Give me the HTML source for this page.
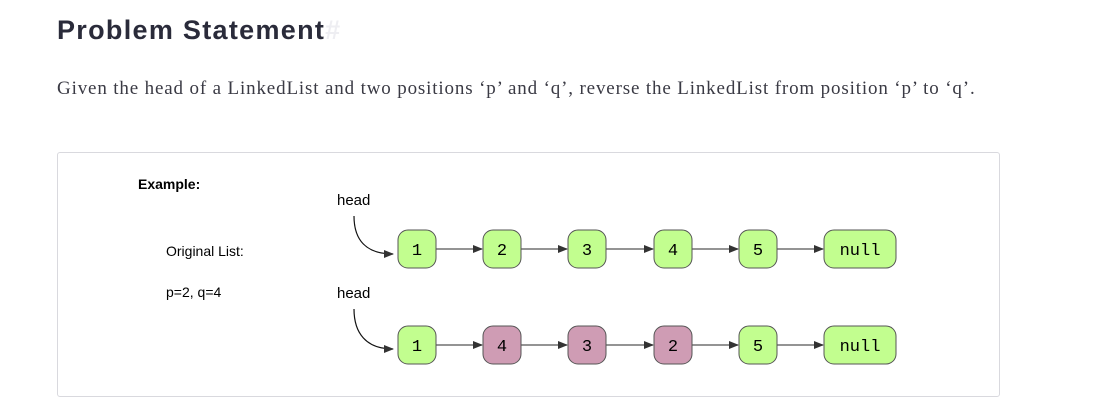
<!DOCTYPE html>
<html><head><style>
body{margin:0;width:1094px;height:412px;background:#fff;overflow:hidden;position:relative;font-family:"Liberation Sans",sans-serif}
h1{position:absolute;left:57px;top:15px;margin:0;font-size:27px;font-weight:bold;color:#2a2b3a;letter-spacing:1.3px}
h1 span{color:#eeeef2}
p{position:absolute;left:57px;top:78px;margin:0;font-family:"Liberation Serif",serif;font-size:19px;letter-spacing:0.85px;color:#3a3a44}
.box{position:absolute;left:57px;top:152px;width:941px;height:243px;border:1px solid #d9d9de;border-radius:3px}
</style></head><body>
<h1>Problem Statement<span>#</span></h1>
<p>Given the head of a LinkedList and two positions ‘p’ and ‘q’, reverse the LinkedList from position ‘p’ to ‘q’.</p>
<div class="box"></div>
<svg width="1094" height="412" style="position:absolute;left:0;top:0" font-family="Liberation Sans, sans-serif">
<defs><marker id="a" markerWidth="10" markerHeight="8" refX="9" refY="4" orient="auto" markerUnits="userSpaceOnUse"><path d="M0,0L10,4L0,8z" fill="#333"/></marker></defs>
<text x="138" y="189" font-size="14" font-weight="bold">Example:</text>
<text x="166" y="256" font-size="14">Original List:</text>
<text x="166" y="297" font-size="14">p=2, q=4</text>
<text x="337" y="205" font-size="15">head</text>
<text x="337" y="298" font-size="15">head</text>
<path d="M354,216 C354,240 366,254 393,254" fill="none" stroke="#111" stroke-width="1.2" marker-end="url(#a)"/>
<path d="M354,309 C354,333 366,349 393,349" fill="none" stroke="#111" stroke-width="1.2" marker-end="url(#a)"/>
<g stroke="#555" stroke-width="1.2" fill="none">
<line x1="436" y1="249" x2="482" y2="249" marker-end="url(#a)"/>
<line x1="521" y1="249" x2="567" y2="249" marker-end="url(#a)"/>
<line x1="606" y1="249" x2="653" y2="249" marker-end="url(#a)"/>
<line x1="692" y1="249" x2="738" y2="249" marker-end="url(#a)"/>
<line x1="777" y1="249" x2="823" y2="249" marker-end="url(#a)"/>
<line x1="436" y1="345" x2="482" y2="345" marker-end="url(#a)"/>
<line x1="521" y1="345" x2="567" y2="345" marker-end="url(#a)"/>
<line x1="606" y1="345" x2="653" y2="345" marker-end="url(#a)"/>
<line x1="692" y1="345" x2="738" y2="345" marker-end="url(#a)"/>
<line x1="777" y1="345" x2="823" y2="345" marker-end="url(#a)"/>
</g>
<g stroke="#555" stroke-width="1">
<rect x="398" y="230" width="38" height="38" rx="10" fill="#c2fe8f"/>
<rect x="483" y="230" width="38" height="38" rx="10" fill="#c2fe8f"/>
<rect x="568" y="230" width="38" height="38" rx="10" fill="#c2fe8f"/>
<rect x="654" y="230" width="38" height="38" rx="10" fill="#c2fe8f"/>
<rect x="739" y="230" width="38" height="38" rx="10" fill="#c2fe8f"/>
<rect x="824" y="230" width="72" height="38" rx="10" fill="#c2fe8f"/>
<rect x="398" y="326" width="38" height="38" rx="10" fill="#c2fe8f"/>
<rect x="483" y="326" width="38" height="38" rx="10" fill="#cf9cb4"/>
<rect x="568" y="326" width="38" height="38" rx="10" fill="#cf9cb4"/>
<rect x="654" y="326" width="38" height="38" rx="10" fill="#cf9cb4"/>
<rect x="739" y="326" width="38" height="38" rx="10" fill="#c2fe8f"/>
<rect x="824" y="326" width="72" height="38" rx="10" fill="#c2fe8f"/>
</g>
<g font-family="Liberation Mono, monospace" font-size="17" text-anchor="middle" fill="#000">
<text x="417" y="255">1</text><text x="502" y="255">2</text><text x="587" y="255">3</text><text x="673" y="255">4</text><text x="758" y="255">5</text><text x="860" y="255">null</text>
<text x="417" y="351">1</text><text x="502" y="351">4</text><text x="587" y="351">3</text><text x="673" y="351">2</text><text x="758" y="351">5</text><text x="860" y="351">null</text>
</g>
</svg>
</body></html>
